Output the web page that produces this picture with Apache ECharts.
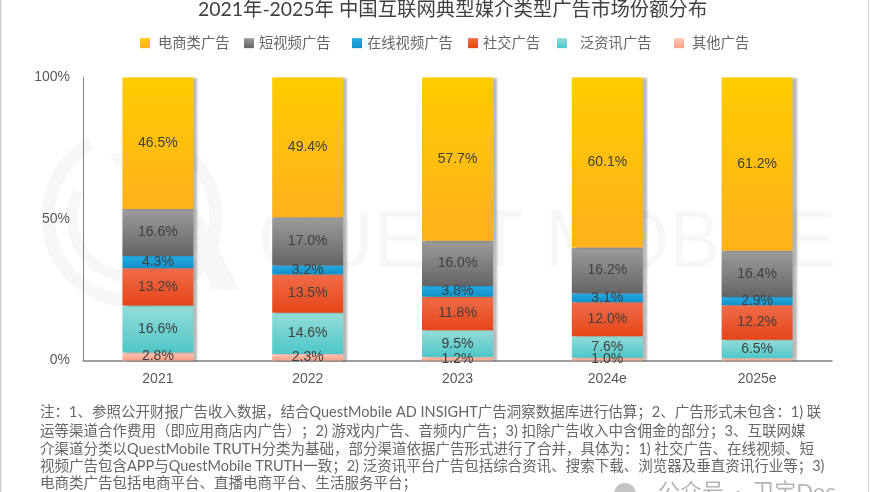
<!DOCTYPE html>
<html><head><meta charset="utf-8">
<style>html,body{margin:0;padding:0;background:#fff}#c{width:870px;height:492px}</style>
<script src="https://cdn.jsdelivr.net/npm/echarts@6/dist/echarts.min.js"></script>
</head><body><div id="c"></div>
<script>
const titleText = '2021年-2025年 中国互联网典型媒介类型广告市场份额分布';
const categories = ['2021','2022','2023','2024e','2025e'];
const valueTicks = ['0%','50%','100%'];
const ecommerce = [46.5,49.4,57.7,60.1,61.2];
const shortVideo = [16.6,17.0,16.0,16.2,16.4];
const onlineVideo = [4.3,3.2,3.8,3.1,2.9];
const social = [13.2,13.5,11.8,12.0,12.2];
const generalNews = [16.6,14.6,9.5,7.6,6.5];
const others = [2.8,2.3,1.2,1.0,0.8];
const noteLines = [
 '注\uFF1A1、参照公开财报广告收入数据\uFF0C结合QuestMobile AD INSIGHT广告洞察数据库进行估算\uFF1B2、广告形式未包含\uFF1A1) 联',
 '运等渠道合作费用\uFF08即应用商店内广告\uFF09\uFF1B2) 游戏内广告、音频内广告\uFF1B3) 扣除广告收入中含佣金的部分\uFF1B3、互联网媒',
 '介渠道分类以QuestMobile TRUTH分类为基础\uFF0C部分渠道依据广告形式进行了合并\uFF0C具体为\uFF1A1) 社交广告、在线视频、短',
 '视频广告包含APP与QuestMobile TRUTH一致\uFF1B2) 泛资讯平台广告包括综合资讯、搜索下载、浏览器及垂直资讯行业等\uFF1B3)',
 '电商类广告包括电商平台、直播电商平台、生活服务平台\uFF1B'
];
const CJK = 'Lato, "Noto Sans CJK SC", sans-serif';
const grad = (a,b)=>({type:'linear',x:0,y:0,x2:0,y2:1,colorStops:[{offset:0,color:a},{offset:1,color:b}]});
const defs = [
 {name:'其他广告',data:others,c:['#ffc9b8','#ff9f85'],icon:'#ffc49a',ix:674,gap:3},
 {name:'泛资讯广告',data:generalNews,c:['#95dcd8','#4ec7c8'],icon:'#93dcdc',ix:557,gap:8},
 {name:'社交广告',data:social,c:['#f06c48','#e64518'],icon:'#f0653e',ix:468,gap:0},
 {name:'在线视频广告',data:onlineVideo,c:['#26a9e2','#118fc8'],icon:'#20a4dc',ix:352,gap:0},
 {name:'短视频广告',data:shortVideo,c:['#9c9c9c','#646464'],icon:'#858585',ix:244,gap:0},
 {name:'电商类广告',data:ecommerce,c:['#ffcc00','#ffb11c'],icon:'#ffc000',ix:140,gap:3}
];
const series = defs.map(d=>({
 name:d.name,type:'bar',stack:'share',barWidth:71,data:d.data,color:d.icon,
 itemStyle:{color:grad(d.c[0],d.c[1]),shadowColor:'rgba(0,0,0,0.28)',shadowBlur:2,shadowOffsetX:4,shadowOffsetY:0},
 label:{show:true,position:'inside',fontFamily:'"Liberation Sans"',fontSize:14,color:'#404040',
  formatter:p=>p.value<1?'':p.value.toFixed(1)+'%'}
}));
const legends = defs.map(d=>({
 data:[d.name],left:d.ix,top:36,padding:0,itemWidth:10,itemHeight:10,icon:'rect',selectedMode:false,
 textStyle:{fontFamily:CJK,fontSize:14.3,color:'#666666',padding:[0,0,0,d.gap]}
}));
const wm = '#f7f7f7';
const ring = (r,w,s,e)=>({type:'arc',z:0,silent:true,shape:{cx:132,cy:217,r,startAngle:s,endAngle:e},style:{fill:null,stroke:wm,lineWidth:w}});
const graphic = [
 {type:'line',shape:{x1:0.5,y1:0,x2:0.5,y2:492},style:{stroke:'#cfcfcf',lineWidth:2}},
 {type:'line',shape:{x1:868.5,y1:0,x2:868.5,y2:492},style:{stroke:'#d8d8d8',lineWidth:1}},
 ring(84,13,-1.1,4.2),
 ring(60,11,-1.9,-0.3),ring(60,11,1.0,3.6),
 {type:'polygon',z:0,shape:{points:[[172,200],[192,200],[240,291],[212,289]]},style:{fill:wm}},
 {type:'text',z:0,x:258,y:203,scaleX:0.94,style:{text:'QUEST MOBILE',fontFamily:'"Liberation Sans"',fontSize:82,fill:wm}},
 ...noteLines.map((t,i)=>({type:'text',left:40,top:[405,424,442,459,476][i],
   style:{text:t,fontFamily:CJK,fontSize:14.5,fill:'#666666'}})),
 {type:'circle',shape:{cx:625,cy:494,r:11},style:{fill:'#c4c4c4'}},
 {type:'text',left:658,top:481,style:{text:'公众号  ·  卫宝Doc',fontFamily:CJK,fontSize:22,fill:'#b5b5b5'}}
];
const chart = echarts.init(document.getElementById('c'),null,{renderer:'canvas'});
chart.setOption({
 animation:false,backgroundColor:'#fff',
 title:{text:titleText,left:198,top:0,padding:0,textStyle:{fontFamily:CJK,fontSize:19.4,fontWeight:'normal',color:'#404040'}},
 legend:legends,
 grid:{left:83,right:38,top:77.5,bottom:131.5},
 xAxis:{type:'category',data:categories,axisTick:{show:false},
  axisLine:{lineStyle:{color:'#808080',width:1.5}},
  axisLabel:{margin:12,fontFamily:'"Liberation Sans"',fontSize:14,color:'#595959'}},
 yAxis:{type:'value',min:0,max:100,interval:50,splitLine:{show:false},
  axisLine:{show:true,lineStyle:{color:'#808080',width:1}},axisTick:{show:false},
  axisLabel:{margin:13,fontFamily:'"Liberation Sans"',fontSize:14,color:'#595959',
   formatter:v=>valueTicks[v/50]}},
 graphic,
 series
});
</script></body></html>
